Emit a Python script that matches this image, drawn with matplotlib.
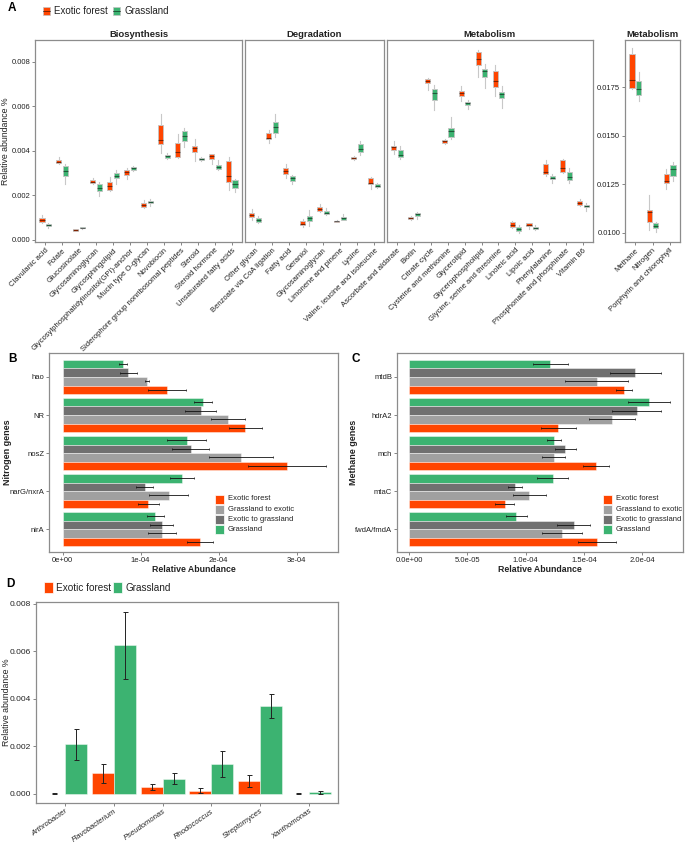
import matplotlib
matplotlib.use('Agg')
import matplotlib.pyplot as plt
from matplotlib.patches import Rectangle
from matplotlib.lines import Line2D

plt.rcParams['font.family'] = ['Liberation Sans', 'DejaVu Sans']

W, H = 685, 843
EF_COL = '#FF4500'
GR_COL = '#3CB371'
G2E_COL = '#A0A0A0'
E2G_COL = '#707070'
FRAME = '#8C8C8C'
TXT = '#222222'

# ---- panel A: boxplot stats (whisker low, q1, median, q3, whisker high) ----
bio_cats = ['Clavulanic acid', 'Folate', 'Glucosinolate', 'Glycosaminoglycan', 'Glycosphingolipid',
            'Glycosylphosphatidylinositol(GPI)-anchor', 'Mucin type O-glycan', 'Novobiocin',
            'Siderophore group nonribosomal peptides', 'Steroid', 'Steroid hormone', 'Unsaturated fatty acids']
bio_ef = [(0.00077, 0.00082, 0.00091, 0.00100, 0.00110), (0.00343, 0.00346, 0.00352, 0.00361, 0.00373),
          (0.00040, 0.00042, 0.00045, 0.00048, 0.00050), (0.00253, 0.00256, 0.00262, 0.00267, 0.00276),
          (0.00220, 0.00225, 0.00243, 0.00259, 0.00283), (0.00273, 0.00291, 0.00304, 0.00314, 0.00323),
          (0.00142, 0.00149, 0.00156, 0.00168, 0.00179), (0.00390, 0.00429, 0.00447, 0.00516, 0.00563),
          (0.00368, 0.00374, 0.00393, 0.00434, 0.00474), (0.00356, 0.00393, 0.00411, 0.00422, 0.00452),
          (0.00340, 0.00364, 0.00376, 0.00385, 0.00387), (0.00224, 0.00261, 0.00285, 0.00353, 0.00373)]
bio_gr = [(0.00052, 0.00061, 0.00067, 0.00072, 0.00077), (0.00250, 0.00286, 0.00310, 0.00332, 0.00340),
          (0.00050, 0.00052, 0.00055, 0.00057, 0.00058), (0.00197, 0.00219, 0.00232, 0.00252, 0.00261),
          (0.00252, 0.00276, 0.00289, 0.00300, 0.00313), (0.00310, 0.00314, 0.00323, 0.00328, 0.00332),
          (0.00153, 0.00164, 0.00171, 0.00177, 0.00182), (0.00362, 0.00367, 0.00376, 0.00382, 0.00390),
          (0.00417, 0.00443, 0.00468, 0.00487, 0.00504), (0.00353, 0.00358, 0.00362, 0.00367, 0.00371),
          (0.00316, 0.00319, 0.00329, 0.00338, 0.00358), (0.00216, 0.00231, 0.00250, 0.00268, 0.00274)]

deg_cats = ['Other glycan', 'Benzoate via CoA ligation', 'Fatty acid', 'Geraniol', 'Glycosaminoglycan',
            'Limonene and pinene', 'Lysine', 'Valine, leucine and isoleucine']
deg_ef = [(0.00089, 0.00101, 0.00110, 0.00119, 0.00137), (0.00437, 0.00452, 0.00459, 0.00481, 0.00495),
          (0.00277, 0.00295, 0.00311, 0.00323, 0.00341), (0.00058, 0.00066, 0.00073, 0.00085, 0.00092),
          (0.00127, 0.00131, 0.00139, 0.00146, 0.00161), (0.00079, 0.00082, 0.00083, 0.00086, 0.00089),
          (0.00361, 0.00364, 0.00368, 0.00374, 0.00377), (0.00230, 0.00252, 0.00256, 0.00276, 0.00283)]
deg_gr = [(0.00077, 0.00082, 0.00091, 0.00098, 0.00109), (0.00462, 0.00481, 0.00508, 0.00528, 0.00563),
          (0.00249, 0.00265, 0.00276, 0.00285, 0.00291), (0.00064, 0.00086, 0.00097, 0.00107, 0.00134),
          (0.00110, 0.00115, 0.00122, 0.00130, 0.00145), (0.00088, 0.00091, 0.00097, 0.00103, 0.00115),
          (0.00380, 0.00396, 0.00408, 0.00431, 0.00443), (0.00234, 0.00238, 0.00244, 0.00250, 0.00256)]

met_cats = ['Ascorbate and aldarate', 'Biotin', 'Citrate cycle', 'Cysteine and methionine', 'Glycerolipid',
            'Glycerophospholipid', 'Glycine, serine and threonine', 'Linoleic acid', 'Lipoic acid',
            'Phenylalanine', 'Phosphonate and phosphinate', 'Vitamin B6']
met_ef = [(0.00387, 0.00405, 0.00416, 0.00423, 0.00443), (0.00089, 0.00094, 0.00100, 0.00104, 0.00107),
          (0.00674, 0.00703, 0.00714, 0.00723, 0.00726), (0.00431, 0.00434, 0.00443, 0.00450, 0.00453),
          (0.00623, 0.00645, 0.00659, 0.00669, 0.00690), (0.00733, 0.00785, 0.00812, 0.00844, 0.00854),
          (0.00645, 0.00686, 0.00714, 0.00756, 0.00784), (0.00055, 0.00058, 0.00066, 0.00080, 0.00083),
          (0.00051, 0.00061, 0.00067, 0.00075, 0.00077), (0.00286, 0.00295, 0.00304, 0.00343, 0.00358),
          (0.00300, 0.00303, 0.00323, 0.00359, 0.00362), (0.00152, 0.00155, 0.00167, 0.00177, 0.00185)]
met_gr = [(0.00364, 0.00374, 0.00383, 0.00402, 0.00420), (0.00095, 0.00109, 0.00115, 0.00121, 0.00127),
          (0.00583, 0.00627, 0.00660, 0.00675, 0.00696), (0.00453, 0.00463, 0.00489, 0.00504, 0.00551),
          (0.00586, 0.00607, 0.00614, 0.00621, 0.00627), (0.00680, 0.00730, 0.00757, 0.00767, 0.00791),
          (0.00592, 0.00635, 0.00656, 0.00665, 0.00692), (0.00033, 0.00040, 0.00048, 0.00060, 0.00066),
          (0.00045, 0.00051, 0.00055, 0.00060, 0.00067), (0.00255, 0.00273, 0.00280, 0.00288, 0.00298),
          (0.00256, 0.00270, 0.00283, 0.00306, 0.00322), (0.00131, 0.00146, 0.00153, 0.00159, 0.00164)]

met2_cats = ['Methane', 'Nitrogen', 'Porphyrin and chlorophyll']
met2_ef = [(0.01740, 0.01747, 0.01790, 0.01925, 0.01952), (0.01014, 0.01055, 0.01107, 0.01117, 0.01193),
           (0.01228, 0.01255, 0.01269, 0.01305, 0.01328)]
met2_gr = [(0.01680, 0.01709, 0.01740, 0.01782, 0.01828), (0.01005, 0.01024, 0.01036, 0.01050, 0.01057),
           (0.01267, 0.01293, 0.01331, 0.01350, 0.01366)]

# ---- panels B, C: mean and se, in units of 1e-4 ----
nitro_genes = ['hao', 'NR', 'nosZ', 'narG/nxrA', 'nirA']
nitro_ef = [1.34, 2.34, 2.87, 1.10, 1.76]
nitro_g2e = [1.08, 2.12, 2.29, 1.36, 1.27]
nitro_e2g = [0.84, 1.77, 1.64, 1.05, 1.27]
nitro_gr = [0.77, 1.80, 1.59, 1.53, 1.19]
nitro_ef_se = [0.24, 0.21, 0.50, 0.13, 0.17]
nitro_g2e_se = [0.03, 0.22, 0.41, 0.25, 0.18]
nitro_e2g_se = [0.11, 0.20, 0.24, 0.11, 0.15]
nitro_gr_se = [0.05, 0.12, 0.25, 0.15, 0.11]

meth_genes = ['mtdB', 'hdrA2', 'mch', 'mtaC', 'fwdA/fmdA']
meth_ef = [1.84, 1.28, 1.60, 0.82, 1.61]
meth_g2e = [1.61, 1.74, 1.24, 1.03, 1.31]
meth_e2g = [1.94, 1.95, 1.34, 0.91, 1.41]
meth_gr = [1.21, 2.06, 1.24, 1.23, 0.92]
meth_ef_se = [0.07, 0.15, 0.11, 0.08, 0.16]
meth_g2e_se = [0.27, 0.20, 0.10, 0.14, 0.17]
meth_e2g_se = [0.22, 0.21, 0.09, 0.06, 0.14]
meth_gr_se = [0.15, 0.18, 0.06, 0.13, 0.09]
UNIT = 1e-4

# ---- panel D ----
genera = ['Arthrobacter', 'Flavobacterium', 'Pseudomonas', 'Rhodococcus', 'Streptomyces', 'Xanthomonas']
gen_ef = [0.00001, 0.00087, 0.00031, 0.00014, 0.00053, 0.00001]
gen_ef_se = [0.00001, 0.00039, 0.00013, 0.00011, 0.00025, 0.00001]
gen_gr = [0.00210, 0.00626, 0.00065, 0.00126, 0.00370, 0.00007]
gen_gr_se = [0.00065, 0.00141, 0.00023, 0.00054, 0.00050, 0.00006]

fig = plt.figure(figsize=(W / 100, H / 100), dpi=100)


def add_ax(l, t, r, b):
    return fig.add_axes([l / W, 1 - b / H, (r - l) / W, (b - t) / H])


def fx(x):
    return x / W


def fy(y):
    return 1 - y / H


def style(ax):
    for s in ax.spines.values():
        s.set_color(FRAME)
        s.set_linewidth(0.9)
    ax.tick_params(length=2, width=0.5, color='#555555', labelsize=5.5, labelcolor=TXT, pad=1.5)


def boxes(ax, cats, ef, gr, ylim):
    for data, off, col in ((ef, -0.19, EF_COL), (gr, 0.19, GR_COL)):
        stats = [dict(whislo=s[0], q1=s[1], med=s[2], q3=s[3], whishi=s[4]) for s in data]
        ax.bxp(stats, positions=[i + off for i in range(len(cats))], widths=0.3,
               showfliers=False, showcaps=False, patch_artist=True, manage_ticks=False,
               boxprops=dict(facecolor=col, edgecolor='#C4C4C4', linewidth=0.6),
               whiskerprops=dict(color='#C8C8C8', linewidth=0.8),
               medianprops=dict(color='#000000', alpha=0.5, linewidth=0.8))
    ax.set_xlim(-0.6, len(cats) - 0.4)
    ax.set_ylim(*ylim)
    ax.set_xticks(range(len(cats)))
    ax.set_xticklabels(cats, rotation=45, ha='right', rotation_mode='anchor')
    style(ax)


# ---------------- panel A ----------------
ylimA = (-0.00009, 0.00897)
ax1 = add_ax(35, 40, 242, 242)
boxes(ax1, bio_cats, bio_ef, bio_gr, ylimA)
ax1.set_yticks([0, 0.002, 0.004, 0.006, 0.008])
ax1.set_yticklabels(['0.000', '0.002', '0.004', '0.006', '0.008'])
fig.text(fx(6), fy(141), 'Relative abundance %', fontsize=6.3, color=TXT, rotation=90,
         ha='center', va='center')

ax2 = add_ax(245, 40, 384, 242)
boxes(ax2, deg_cats, deg_ef, deg_gr, ylimA)
ax2.set_yticks([])

ax3 = add_ax(387, 40, 593, 242)
boxes(ax3, met_cats, met_ef, met_gr, ylimA)
ax3.set_yticks([])

ax4 = add_ax(625, 40, 680, 242)
boxes(ax4, met2_cats, met2_ef, met2_gr, (0.00953, 0.01995))
ax4.set_yticks([0.0100, 0.0125, 0.0150, 0.0175])
ax4.set_yticklabels(['0.0100', '0.0125', '0.0150', '0.0175'])

for ax, title in ((ax1, 'Biosynthesis'), (ax2, 'Degradation'), (ax3, 'Metabolism'), (ax4, 'Metabolism')):
    ax.set_title(title, fontsize=6.8, fontweight='bold', color=TXT, pad=2.5)

# legend A
for kx, col, lab in ((43, EF_COL, 'Exotic forest'), (113, GR_COL, 'Grassland')):
    fig.patches.append(Rectangle((fx(kx), fy(15)), 7 / W, 8 / H, transform=fig.transFigure,
                                 facecolor=col, edgecolor='#C4C4C4', lw=0.5))
    fig.lines.append(Line2D([fx(kx), fx(kx + 7)], [fy(11), fy(11)], transform=fig.transFigure,
                            color='black', alpha=0.5, lw=0.7))
    fig.text(fx(kx + 11), fy(11), lab, fontsize=7, va='center', color=TXT)


# ---------------- panels B, C ----------------
def gene_bars(ax, genes, series, ses, xlim, ticks, ticklabels):
    cols = [GR_COL, E2G_COL, G2E_COL, EF_COL]
    offs = [-0.3375, -0.1125, 0.1125, 0.3375]
    for vals, se, col, off in zip(series, ses, cols, offs):
        pos = [i + off for i in range(len(genes))]
        v = [x * UNIT for x in vals]
        e = [x * UNIT for x in se]
        ax.barh(pos, v, height=0.225, color=col, edgecolor=(1, 1, 1, 0.6), linewidth=0.5)
        ax.errorbar(v, pos, xerr=e, fmt='none', ecolor='#111111', elinewidth=0.6,
                    capsize=0.8, capthick=0.5)
    ax.set_ylim(len(genes) - 0.4, -0.63)
    ax.set_yticks(range(len(genes)))
    ax.set_yticklabels(genes)
    ax.set_xlim(*xlim)
    ax.set_xticks(ticks)
    ax.set_xticklabels(ticklabels)
    ax.set_xlabel('Relative Abundance', fontsize=6.3, fontweight='bold', color=TXT, labelpad=1)
    style(ax)


axB = add_ax(49, 353, 338, 552)
gene_bars(axB, nitro_genes, [nitro_gr, nitro_e2g, nitro_g2e, nitro_ef],
          [nitro_gr_se, nitro_e2g_se, nitro_g2e_se, nitro_ef_se],
          (-0.175e-4, 3.53e-4), [0, 1e-4, 2e-4, 3e-4], ['0e+00', '1e-04', '2e-04', '3e-04'])
fig.text(fx(8), fy(452), 'Nitrogen genes', fontsize=6.5, fontweight='bold', color=TXT,
         rotation=90, ha='center', va='center')

axC = add_ax(397, 353, 683, 552)
gene_bars(axC, meth_genes, [meth_gr, meth_e2g, meth_g2e, meth_ef],
          [meth_gr_se, meth_e2g_se, meth_g2e_se, meth_ef_se],
          (-0.103e-4, 2.348e-4), [0, 0.5e-4, 1e-4, 1.5e-4, 2e-4],
          ['0.0e+00', '5.0e-05', '1.0e-04', '1.5e-04', '2.0e-04'])
fig.text(fx(354), fy(452), 'Methane genes', fontsize=6.5, fontweight='bold', color=TXT,
         rotation=90, ha='center', va='center')

legend_labels = ['Exotic forest', 'Grassland to exotic', 'Exotic to grassland', 'Grassland']
legend_cols = [EF_COL, G2E_COL, E2G_COL, GR_COL]
for lx in (215, 603):
    for k, (lab, col) in enumerate(zip(legend_labels, legend_cols)):
        yc = 499 + k * 10.3
        fig.patches.append(Rectangle((fx(lx), fy(yc + 4.5)), 9 / W, 9 / H, transform=fig.transFigure,
                                     facecolor=col, edgecolor='white', lw=0.5))
        fig.text(fx(lx + 13), fy(yc), lab, fontsize=5.5, va='center', color=TXT)

# ---------------- panel D ----------------
axD = add_ax(36, 602, 338, 803)
xs = range(len(genera))
axD.bar([i - 0.225 for i in xs], gen_ef, width=0.45, color=EF_COL, edgecolor=(1, 1, 1, 0.6), lw=0.5)
axD.bar([i + 0.225 for i in xs], gen_gr, width=0.45, color=GR_COL, edgecolor=(1, 1, 1, 0.6), lw=0.5)
axD.errorbar([i - 0.225 for i in xs], gen_ef, yerr=gen_ef_se, fmt='none', ecolor='#222222',
             elinewidth=0.7, capsize=1.8, capthick=0.7)
axD.errorbar([i + 0.225 for i in xs], gen_gr, yerr=gen_gr_se, fmt='none', ecolor='#222222',
             elinewidth=0.7, capsize=1.8, capthick=0.7)
axD.set_xlim(-0.6, len(genera) - 0.4)
axD.set_ylim(-0.00038, 0.00808)
axD.set_yticks([0, 0.002, 0.004, 0.006, 0.008])
axD.set_yticklabels(['0.000', '0.002', '0.004', '0.006', '0.008'])
axD.set_xticks(list(xs))
axD.set_xticklabels(genera, rotation=35, ha='right', rotation_mode='anchor', style='italic')
style(axD)
axD.tick_params(axis='y', labelsize=6)
axD.tick_params(axis='x', labelsize=5.5)
fig.text(fx(7), fy(702), 'Relative abundance %', fontsize=6.3, color=TXT, rotation=90,
         ha='center', va='center')

for kx, col, lab in ((44, EF_COL, 'Exotic forest'), (113, GR_COL, 'Grassland')):
    fig.patches.append(Rectangle((fx(kx), fy(593)), 9 / W, 11 / H, transform=fig.transFigure,
                                 facecolor=col, edgecolor='white', lw=0.5))
    fig.text(fx(kx + 12), fy(588), lab, fontsize=7.2, va='center', color=TXT)

# panel letters
for lx, ly, letter in ((8, 8, 'A'), (8, 359, 'B'), (351, 359, 'C'), (6, 584, 'D')):
    fig.text(fx(lx), fy(ly), letter, fontsize=8.5, fontweight='bold', va='center', color='black')

fig.savefig('out.png', dpi=100)
